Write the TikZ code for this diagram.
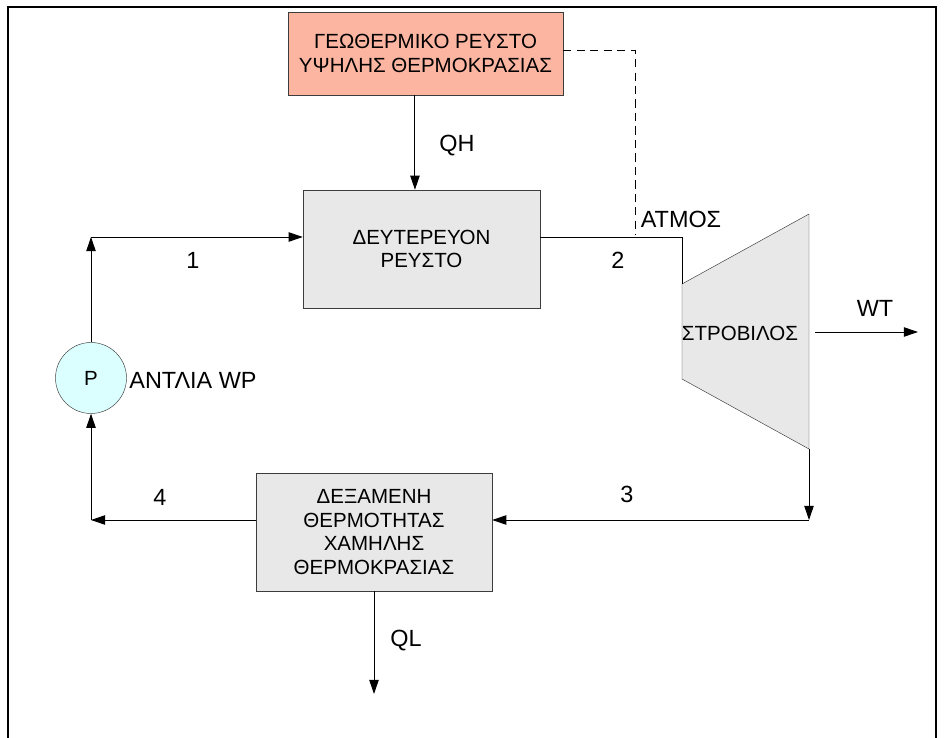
\documentclass[tikz,border=0pt]{standalone}
\usepackage{fontspec}
\setmainfont{Liberation Sans}
\usepackage{tikz}
\usetikzlibrary{calc,arrows.meta}

\definecolor{salmon}{RGB}{251,181,161}
\definecolor{boxgray}{RGB}{232,232,232}
\definecolor{pumpcyan}{RGB}{219,255,255}
\definecolor{edgegray}{RGB}{60,60,60}

\begin{document}
\begin{tikzpicture}[x = 0.03cm, y = -0.03cm,
  font = \fontsize{17.5}{20}\selectfont,
  box/.style = {draw = edgegray, fill = boxgray, align = center, inner sep = 0pt},
  flow/.style = {-{Triangle[length=12pt, width=8pt]}, line width = 0.8pt},
  pipe/.style = {line width = 0.8pt},
  lbl/.style = {font = \fontsize{20}{24}\selectfont, inner sep = 0pt}]
\useasboundingbox (0,0) rectangle (944,738);
% outer frame (open at the bottom)
\draw[line width = 1.8pt] (8,738) -- (8,7) -- (936,7) -- (936,738);

% blocks
\node[box, fill = salmon, minimum width = 8.25cm, minimum height = 2.49cm] (geo) at (425.5,53.5)
  {ΓΕΩΘΕΡΜΙΚΟ ΡΕΥΣΤΟ\\ΥΨΗΛΗΣ ΘΕΡΜΟΚΡΑΣΙΑΣ};
\node[box, minimum width = 7.11cm, minimum height = 3.54cm] (sec) at (421.5,249)
  {ΔΕΥΤΕΡΕΥΟΝ\\ΡΕΥΣΤΟ};
\node[box, minimum width = 7.08cm, minimum height = 3.54cm] (tank) at (374,532)
  {ΔΕΞΑΜΕΝΗ\\ΘΕΡΜΟΤΗΤΑΣ\\ΧΑΜΗΛΗΣ\\ΘΕΡΜΟΚΡΑΣΙΑΣ};
\node[circle, draw = edgegray, fill = pumpcyan, minimum size = 2.13cm, inner sep = 0pt] (pump) at (91,378) {P};

% turbine
\coordinate (tin) at (682,284);
\coordinate (tout) at (809,449);
\draw[draw = edgegray, fill = boxgray] (tin) -- (809,214) -- (tout) -- (682,379) -- cycle;
\node (turb) at (740,333) {ΣΤΡΟΒΙΛΟΣ};

% corners and free ends
\coordinate (p1) at (91,237);
\coordinate (p2) at (682,237);
\coordinate (p3) at (809,520);
\coordinate (p4) at (91,520);
\coordinate (atm) at (635,235);
\coordinate (shaft) at (815,332);
\coordinate (wtend) at (918,332);
\coordinate (qlend) at (374,694);

% connectors
\draw[flow] ([xshift=-9pt]geo.south) -- ([xshift=-9pt]geo.south |- sec.north);
\draw[pipe, dash pattern = on 7pt off 4.5pt] ([yshift=3pt]geo.east) -| (atm);
\draw[flow] (pump.north) -- (p1);
\draw[flow] (p1) -- (p1 -| sec.west);
\draw[pipe] (p2 -| sec.east) -- (p2) -- (tin);
\draw[flow] (shaft) -- (wtend);
\draw[flow] (tout) -- (p3);
\draw[flow] (p3) -- (p3 -| tank.east);
\draw[flow] (p4 -| tank.west) -- (p4);
\draw[flow] (p4) -- (pump.south);
\draw[flow] (tank.south) -- (qlend);

% labels
\node[lbl] (lqh) at (457,146) {QH};
\node[lbl] (l1) at (193,260) {1};
\node[lbl] (l2) at (618,260) {2};
\node[lbl] (l3) at (627,494) {3};
\node[lbl] (l4) at (160,497) {4};
\node[lbl] (latm) at (681,219) {ΑΤΜΟΣ};
\node[lbl] (lwt) at (875,308) {WT};
\node[lbl] (lwp) at (193,380) {ΑΝΤΛΙΑ WP};
\node[lbl] (lql) at (406,641) {QL};
\end{tikzpicture}
\end{document}
